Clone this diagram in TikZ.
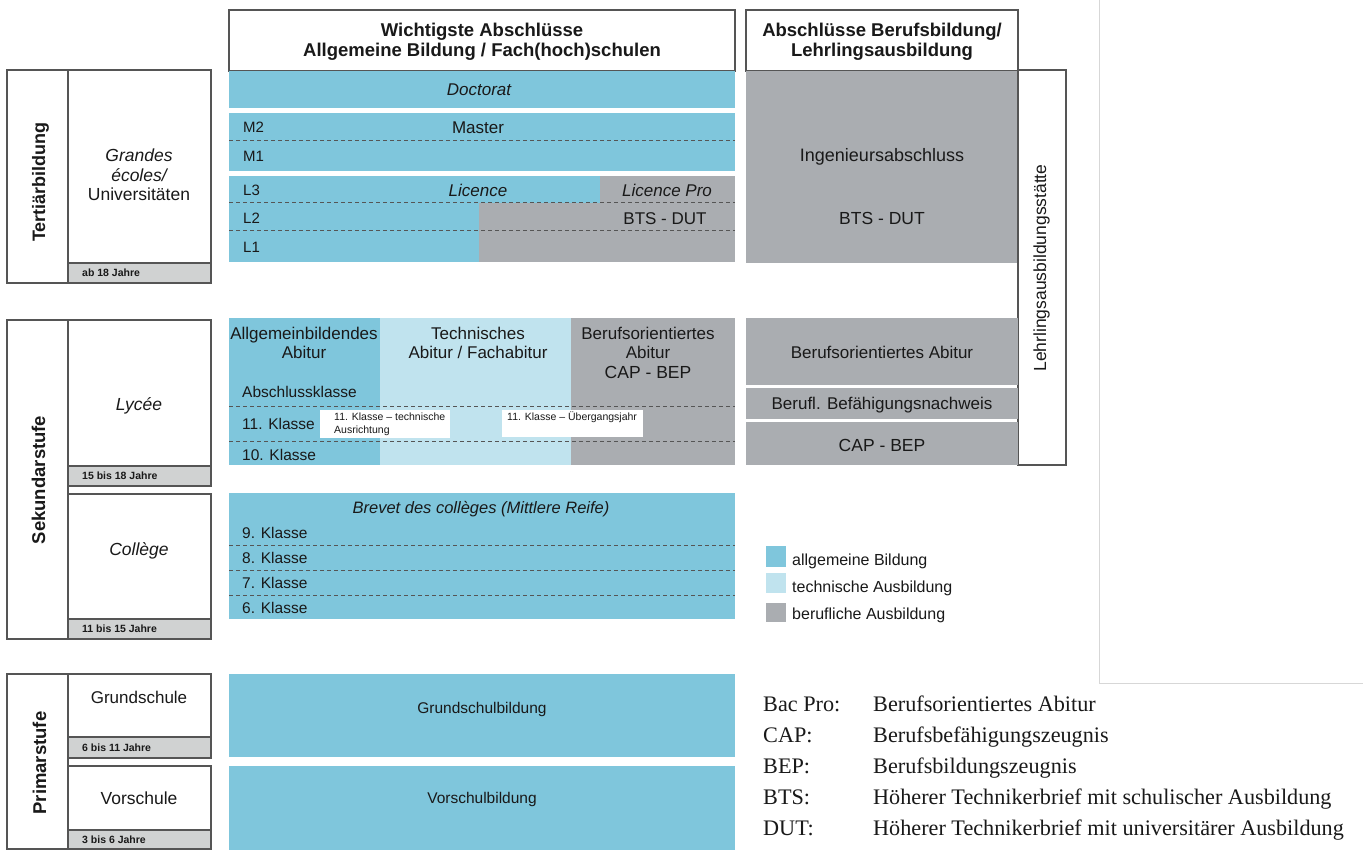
\documentclass[tikz,border=0pt]{standalone}
\usepackage{fontspec}
\setmainfont{Liberation Sans}
\newfontfamily\tnr{Liberation Serif}
\definecolor{cAB}{RGB}{127,198,220}
\definecolor{cTB}{RGB}{192,227,238}
\definecolor{cBB}{RGB}{170,173,177}
\definecolor{cAG}{RGB}{208,210,210}
\definecolor{cLN}{RGB}{85,85,85}
\definecolor{ink}{RGB}{25,25,25}
\definecolor{cFR}{RGB}{215,215,215}
\tikzset{
  t/.style={inner sep=0pt, text=ink, anchor=base, yshift=-0.358*#1pt, font=\fontsize{#1}{#1}\selectfont},
  tw/.style={t=#1, anchor=base west},
  tb/.style={t=#1, font=\bfseries\fontsize{#1}{#1}\selectfont},
  ti/.style={t=#1, font=\itshape\fontsize{#1}{#1}\selectfont},
  age/.style={tw=10.5, font=\bfseries\fontsize{10.5}{10.5}\selectfont},
  small/.style={tw=10.5},
  leg/.style={tw=16},
  tms/.style={tw=22.2, font=\tnr\fontsize{22.2}{22.2}\selectfont},
  rt/.style={inner sep=0pt, text=ink, anchor=base, rotate=90, font=\bfseries\fontsize{#1}{#1}\selectfont},
  rtn/.style={inner sep=0pt, text=ink, anchor=base, rotate=90, font=\fontsize{#1}{#1}\selectfont},
  box/.style={draw=cLN, line width=1.3pt},
  dl/.style={draw=cLN, line width=1pt, dash pattern=on 4pt off 3pt},
}
\begin{document}
\begin{tikzpicture}[x=1pt,y=-1pt]
\useasboundingbox (0,0) rectangle (1363,850);
\fill[white] (0,0) rectangle (1363,850);
% faint frame
\draw[cFR, line width=0.8pt] (1099,0) -- (1099,683) -- (1363,683);

% ---------- headers
\draw[box, fill=white] (229,10) rectangle (735,71);
\draw[box, fill=white] (746,10) rectangle (1018,71);
\node[tb=18.5] (h1a) at (482,30) {Wichtigste Abschlüsse};
\node[tb=18.5] (h1b) at (482,50) {Allgemeine Bildung / Fach(hoch)schulen};
\node[tb=18.5] (h2a) at (882,30) {Abschlüsse Berufsbildung/};
\node[tb=18.5] (h2b) at (882,50) {Lehrlingsausbildung};

% ---------- tertiary
\fill[cAB] (229,71) rectangle (735,108);
\fill[cAB] (229,113) rectangle (735,171);
\fill[cAB] (229,176) rectangle (735,262);
\fill[cBB] (600,176) rectangle (735,203);
\fill[cBB] (479,203) rectangle (735,262);
\draw[dl] (229,141) -- (735,141);
\draw[dl] (229,203) -- (735,203);
\draw[dl] (229,231) -- (735,231);
\node[ti=17] (doc) at (479,89) {Doctorat};
\node[tw=15] (m2) at (243,127) {M2};
\node[t=17] (mas) at (478,127) {Master};
\node[tw=15] (m1) at (243,156) {M1};
\node[tw=15] (l3) at (243,190) {L3};
\node[ti=17] (lic) at (478,190) {Licence};
\node[ti=17] (licp) at (667,190) {Licence Pro};
\node[tw=15] (l2) at (243,218) {L2};
\node[t=17] (btsa) at (665,218) {BTS - DUT};
\node[tw=15] (l1) at (243,247) {L1};

% right column tertiary
\fill[cBB] (746,71) rectangle (1018,263);
\node[t=18] (ing) at (882,155) {Ingenieursabschluss};
\node[t=17.5] (btsb) at (882,218) {BTS - DUT};

% Lehrlingsausbildungsstaette
\draw[box, fill=white] (1018,70) rectangle (1066,465);
\node[rtn=17.5] (lehr) at (1046,268) {Lehrlingsausbildungsstätte};

% left tertiary boxes
\draw[box] (7,70) rectangle (68,283);
\draw[box] (68,70) rectangle (211,283);
\draw[box, fill=cAG] (68,263) rectangle (211,283);
\node[rt=18] (tert) at (45,182) {Tertiärbildung};
\node[ti=17.5] (ge1) at (139,155) {Grandes};
\node[ti=17.5] (ge2) at (139,175) {écoles/};
\node[t=17.5] (ge3) at (139,194) {Universitäten};
\node[age] (a1) at (82,273) {ab 18 Jahre};

% ---------- secondary: Lycee
\fill[cAB] (229,318) rectangle (380,465);
\fill[cTB] (380,318) rectangle (571,465);
\fill[cBB] (571,318) rectangle (735,465);
\draw[dl] (229,406) -- (735,406);
\draw[dl] (229,441) -- (735,441);
\node[t=17] (ly1) at (304,333) {Allgemeinbildendes};
\node[t=17] (ly2) at (304,352) {Abitur};
\node[t=17] (ly3) at (478,333) {Technisches};
\node[t=17] (ly4) at (478,352) {Abitur / Fachabitur};
\node[t=17] (ly5) at (648,333) {Berufsorientiertes};
\node[t=17] (ly6) at (648,352) {Abitur};
\node[t=17.5] (ly7) at (648,372) {CAP - BEP};
\node[tw=15.5] (abk) at (242,392) {Abschlussklasse};
\node[tw=15.5] (k11) at (242,424) {11. Klasse};
\node[tw=15.5] (k10) at (242,455) {10. Klasse};
\fill[white] (320,410) rectangle (450,438);
\fill[white] (502,410) rectangle (643,437);
\node[small] (w1a) at (334,417) {11. Klasse – technische};
\node[small] (w1b) at (334,430) {Ausrichtung};
\node[small] (w2) at (507,417) {11. Klasse – Übergangsjahr};

% right column secondary
\fill[cBB] (746,318) rectangle (1018,385);
\fill[cBB] (746,388) rectangle (1018,419);
\fill[cBB] (746,422) rectangle (1018,465);
\node[t=17] (bo) at (882,352) {Berufsorientiertes Abitur};
\node[t=17] (bf) at (882,403) {Berufl. Befähigungsnachweis};
\node[t=17.5] (cb) at (882,445) {CAP - BEP};

% ---------- College
\fill[cAB] (229,493) rectangle (735,619);
\draw[dl] (229,545) -- (735,545);
\draw[dl] (229,570) -- (735,570);
\draw[dl] (229,595) -- (735,595);
\node[ti=16.5] (brev) at (481,508) {Brevet des collèges (Mittlere Reife)};
\node[tw=15.5] (k9) at (242,533) {9. Klasse};
\node[tw=15.5] (k8) at (242,558) {8. Klasse};
\node[tw=15.5] (k7) at (242,583) {7. Klasse};
\node[tw=15.5] (k6) at (242,608) {6. Klasse};

% left secondary boxes
\draw[box] (7,320) rectangle (68,639);
\draw[box] (68,320) rectangle (211,486);
\draw[box, fill=cAG] (68,466) rectangle (211,486);
\draw[box] (68,494) rectangle (211,639);
\draw[box, fill=cAG] (68,619) rectangle (211,639);
\node[rt=18.5] (sek) at (45,480) {Sekundarstufe};
\node[ti=17.5] (lyc) at (139,404) {Lycée};
\node[ti=17.5] (col) at (139,549) {Collège};
\node[age] (a2) at (82,476) {15 bis 18 Jahre};
\node[age] (a3) at (82,629) {11 bis 15 Jahre};

% legend
\fill[cAB] (766,546) rectangle (786,567);
\fill[cTB] (766,573) rectangle (786,593);
\fill[cBB] (766,603) rectangle (786,622);
\node[leg] (lg1) at (792,560) {allgemeine Bildung};
\node[leg] (lg2) at (792,587) {technische Ausbildung};
\node[leg] (lg3) at (792,614) {berufliche Ausbildung};

% ---------- primary
\fill[cAB] (229,674) rectangle (735,757);
\fill[cAB] (229,766) rectangle (735,850);
\node[t=15.5] (gsb) at (482,708) {Grundschulbildung};
\node[t=15.5] (vsb) at (482,798) {Vorschulbildung};
\draw[box] (7,674) rectangle (68,849);
\draw[box] (68,674) rectangle (211,758);
\draw[box, fill=cAG] (68,737) rectangle (211,758);
\draw[box] (68,766) rectangle (211,849);
\draw[box, fill=cAG] (68,830) rectangle (211,849);
\node[rt=18.5] (pri) at (46,763) {Primarstufe};
\node[t=17] (gs) at (139,697) {Grundschule};
\node[t=17.5] (vs) at (139,798) {Vorschule};
\node[age] (a4) at (82,748) {6 bis 11 Jahre};
\node[age] (a5) at (82,840) {3 bis 6 Jahre};

% abbreviations
\node[tms] (ab1) at (763,704) {Bac Pro:};
\node[tms] (ab2) at (763,735) {CAP:};
\node[tms] (ab3) at (763,766) {BEP:};
\node[tms] (ab4) at (763,797) {BTS:};
\node[tms] (ab5) at (763,828) {DUT:};
\node[tms] (de1) at (873,704) {Berufsorientiertes Abitur};
\node[tms] (de2) at (873,735) {Berufsbefähigungszeugnis};
\node[tms] (de3) at (873,766) {Berufsbildungszeugnis};
\node[tms] (de4) at (873,797) {Höherer Technikerbrief mit schulischer Ausbildung};
\node[tms] (de5) at (873,828) {Höherer Technikerbrief mit universitärer Ausbildung};
\end{tikzpicture}
\end{document}
